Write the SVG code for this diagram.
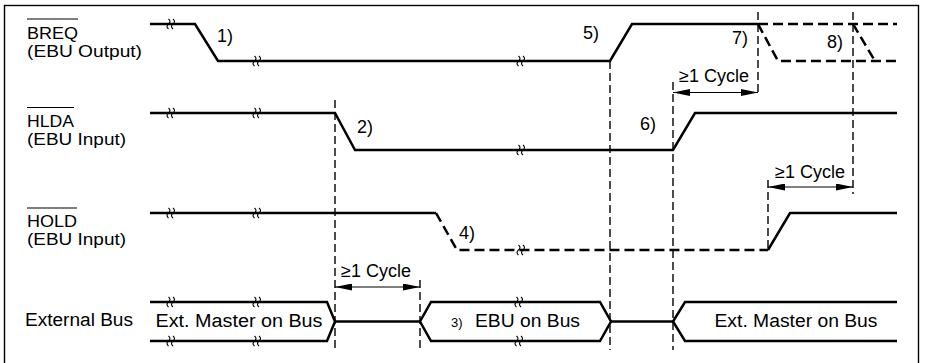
<svg xmlns="http://www.w3.org/2000/svg" width="926" height="363" viewBox="0 0 926 363">
<style>
text{font-family:"Liberation Sans",Arial,sans-serif;font-size:18px;fill:#000}
.lb{font-size:16px}
.sig{fill:none;stroke:#000;stroke-width:2.5;stroke-linejoin:miter}
.sigd{fill:none;stroke:#000;stroke-width:2.5;stroke-dasharray:10 5}
.vd{fill:none;stroke:#000;stroke-width:1.4;stroke-dasharray:8 4}
.ov{stroke:#000;stroke-width:1.2}
.arr{stroke:#000;stroke-width:1.2;marker-start:url(#ah);marker-end:url(#ah)}
.brk{fill:none;stroke:#000;stroke-width:1.1}
.sm{font-size:13px}
</style>
<defs>
<marker id="ah" viewBox="0 0 17 7" refX="17" refY="3.5" markerWidth="17" markerHeight="7" markerUnits="userSpaceOnUse" orient="auto-start-reverse">
<path d="M0,0 L17,3.5 L0,7 z" fill="#000"/>
</marker>
<path id="bk" class="brk" d="M-3.5,-5 q3,2.5 0,5 q-3,2.5 0,5 M1,-5 q3,2.5 0,5 q-3,2.5 0,5"/>
</defs>
<rect x="4.5" y="5.5" width="914" height="370" fill="none" stroke="#000" stroke-width="1.4"/>

<g id="label-breq">
<text class="lb" x="27" y="39" textLength="51" lengthAdjust="spacingAndGlyphs">BREQ</text><line class="ov" x1="27" y1="19" x2="78" y2="19"/>
<text class="lb" x="27" y="57" textLength="115" lengthAdjust="spacingAndGlyphs">(EBU Output)</text>
</g>
<g id="label-hlda">
<text class="lb" x="27" y="127" textLength="47" lengthAdjust="spacingAndGlyphs">HLDA</text><line class="ov" x1="27" y1="107.5" x2="74" y2="107.5"/>
<text class="lb" x="27" y="145" textLength="99" lengthAdjust="spacingAndGlyphs">(EBU Input)</text>
</g>
<g id="label-hold">
<text class="lb" x="27" y="227" textLength="50" lengthAdjust="spacingAndGlyphs">HOLD</text><line class="ov" x1="27" y1="208" x2="77" y2="208"/>
<text class="lb" x="27" y="245" textLength="99" lengthAdjust="spacingAndGlyphs">(EBU Input)</text>
</g>
<g id="label-bus">
<text x="25" y="326" textLength="108" lengthAdjust="spacingAndGlyphs">External Bus</text>
</g>

<g id="connectors">
<line class="vd" x1="335" y1="100" x2="335" y2="350"/>
<line class="vd" x1="420" y1="280" x2="420" y2="350"/>
<line class="vd" x1="610" y1="61" x2="610" y2="350"/>
<line class="vd" x1="673" y1="82" x2="673" y2="350"/>
<line class="vd" x1="758" y1="12" x2="758" y2="94"/>
<line class="vd" x1="768" y1="180" x2="768" y2="250"/>
<line class="vd" x1="853" y1="12" x2="853" y2="194"/>
<line class="arr" x1="335" y1="287" x2="420" y2="287"/>
<line class="arr" x1="673" y1="92.5" x2="758" y2="92.5"/>
<line class="arr" x1="768" y1="187" x2="853" y2="187"/>
</g>

<g id="sig-breq">
<polyline class="sig" points="150,24 195,24 218,61 610,61 632,24 758,24"/>
<polyline class="sigd" points="758,24 897,24"/>
<polyline class="sigd" points="758,24 778,61 897,61"/>
<polyline class="sigd" points="853,24 875,61"/>
<use href="#bk" x="172" y="24"/><use href="#bk" x="258" y="61"/><use href="#bk" x="522" y="61"/>
</g>
<g id="sig-hlda">
<polyline class="sig" points="150,113 335,113 355,150 673,150 695,113 897,113"/>
<use href="#bk" x="172" y="113"/><use href="#bk" x="258" y="113"/><use href="#bk" x="522" y="150"/>
</g>
<g id="sig-hold">
<polyline class="sig" points="150,213 436,213"/>
<polyline class="sigd" points="436,213 457,250 768,250"/>
<polyline class="sig" points="768,250 790,213 897,213"/>
<use href="#bk" x="172" y="213"/><use href="#bk" x="258" y="213"/><use href="#bk" x="522" y="250"/>
</g>
<g id="sig-bus">
<polyline class="sig" points="150,302 327,302 335,321.5 327,341 150,341"/>
<line class="sig" x1="335" y1="321.5" x2="420" y2="321.5"/>
<polygon class="sig" points="420,321.5 431,302 600,302 611,321.5 600,341 431,341"/>
<line class="sig" x1="611" y1="321.5" x2="673" y2="321.5"/>
<polyline class="sig" points="897,302 685,302 673,321.5 685,341 897,341"/>
<use href="#bk" x="172" y="302"/><use href="#bk" x="258" y="302"/><use href="#bk" x="172" y="341"/><use href="#bk" x="258" y="341"/>
<use href="#bk" x="520" y="302"/><use href="#bk" x="520" y="341"/>
<text x="239" y="327" text-anchor="middle" textLength="167" lengthAdjust="spacingAndGlyphs">Ext. Master on Bus</text>
<text x="451" y="327" class="sm">3)</text>
<text x="475" y="327" textLength="105" lengthAdjust="spacingAndGlyphs">EBU on Bus</text>
<text x="796" y="327" text-anchor="middle" textLength="163" lengthAdjust="spacingAndGlyphs">Ext. Master on Bus</text>
</g>

<g id="notes">
<text x="217" y="42">1)</text>
<text x="357" y="133">2)</text>
<text x="459" y="239">4)</text>
<text x="583" y="39">5)</text>
<text x="640" y="130">6)</text>
<text x="732" y="44">7)</text>
<text x="827" y="48">8)</text>
<text x="341" y="277">≥1 Cycle</text>
<text x="679" y="82">≥1 Cycle</text>
<text x="775" y="178">≥1 Cycle</text>
</g>
</svg>
